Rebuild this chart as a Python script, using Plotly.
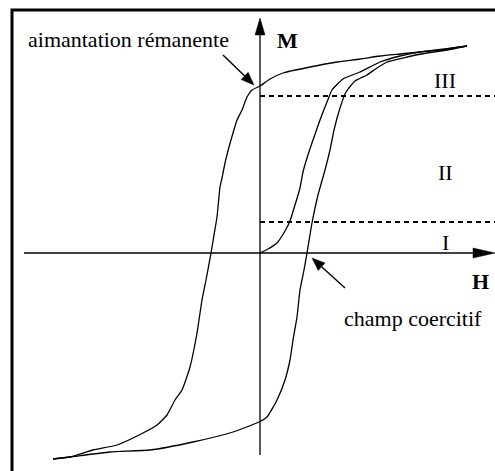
import math
import plotly.graph_objects as go

# Hysteresis loop, values (H, M in drawing units; origin at axes crossing)
desc_H = [207, 180, 160, 140, 120, 100, 77, 50, 23, 10, 0, -8, -13, -18, -23, -27, -31, -35, -38,
          -40, -43, -46, -49, -54, -58, -63, -70, -78, -85, -93, -103, -117, -143, -167, -190, -207]
desc_M = [207, 203, 201, 199, 197, 194, 191, 186, 180, 174, 167, 163, 156, 143, 133, 120, 106, 90, 75,
          66, 36, 18, 0, -27, -47, -80, -114, -137, -147, -162, -172, -180, -192, -197, -204, -206]

asc_H = [-207, -190, -150, -110, -67, -27, -1, 7, 17, 25, 30, 33, 37, 40, 44, 47, 52, 58, 65, 70,
         74, 80, 86, 95, 107, 117, 127, 147, 167, 187, 207]
asc_M = [-206, -204, -199, -197, -189, -179, -169, -164, -147, -127, -107, -87, -64, -37, -17, 0, 30, 58,
         83, 103, 123, 145, 161, 172, 178, 185, 191, 196, 200, 203, 207]

init_H = [0, 8, 17, 25, 30, 35, 40, 43, 47, 53, 60, 67, 72, 83, 100, 120, 140, 160, 185, 207]
init_M = [0, 4, 10, 22, 32, 48, 65, 81, 95, 113, 133, 151, 163, 174, 181, 191, 197, 201, 204, 207]

level_III_II = 157
level_II_I = 31
region_labels = ["III", "II", "I"]
region_M = [173, 81, 11]
region_H = 185

X_MIN, X_MAX = -260, 235
Y_MIN, Y_MAX = -218, 253

fig = go.Figure()
line_style = dict(color="black", width=1.3, shape="spline", smoothing=0.5)
for hs, ms in [(desc_H, desc_M), (asc_H, asc_M), (init_H, init_M)]:
    fig.add_trace(go.Scatter(x=hs, y=ms, mode="lines", line=line_style,
                             hoverinfo="skip", showlegend=False))

shapes = []

def arrow(x0, y0, x1, y1, head_len, head_half, width=1.3):
    dx, dy = x1 - x0, y1 - y0
    n = math.hypot(dx, dy)
    ux, uy = dx / n, dy / n
    bx, by = x1 - ux * head_len, y1 - uy * head_len
    px, py = -uy * head_half, ux * head_half
    shapes.append(dict(type="line", x0=x0, y0=y0, x1=bx, y1=by,
                       line=dict(color="black", width=width)))
    shapes.append(dict(type="path",
                       path=f"M {x1} {y1} L {bx+px} {by+py} L {bx-px} {by-py} Z",
                       fillcolor="black", line=dict(color="black", width=0.5)))

# axes
arrow(-236, 0, 235, 0, 22, 5)
arrow(0, -202, 0, 235, 17, 5)
# annotation arrows
arrow(-37, 198, -6, 168, 13, 5, 1.4)
arrow(85, -35, 52, -5, 13, 5, 1.4)

# dashed levels
for lv in [level_III_II, level_II_I]:
    shapes.append(dict(type="line", x0=0, y0=lv, x1=X_MAX, y1=lv,
                       line=dict(color="black", width=2.2, dash="5px,4px")))

# border (top and left)
shapes.append(dict(type="path", path=f"M -248 {Y_MIN} L -248 243 L {X_MAX} 243",
                   line=dict(color="black", width=3)))

serif = "Liberation Serif"
ann = []
for t, m in zip(region_labels, region_M):
    ann.append(dict(x=region_H, y=m, text=t, showarrow=False,
                    font=dict(family=serif, size=22, color="black")))
ann.append(dict(x=27, y=213, text="<b>M</b>", showarrow=False,
                font=dict(family=serif, size=22, color="black")))
ann.append(dict(x=220, y=-28, text="<b>H</b>", showarrow=False,
                font=dict(family=serif, size=22, color="black")))
ann.append(dict(x=-132, y=214, text="aimantation rémanente", showarrow=False,
                font=dict(family=serif, size=22, color="black")))
ann.append(dict(x=153, y=-65, text="champ coercitif", showarrow=False,
                font=dict(family=serif, size=22, color="black")))

fig.update_layout(
    width=495, height=471, autosize=False,
    margin=dict(l=0, r=0, t=0, b=0),
    font=dict(family=serif),
    paper_bgcolor="white", plot_bgcolor="white",
    xaxis=dict(range=[X_MIN, X_MAX], visible=False, fixedrange=True),
    yaxis=dict(range=[Y_MIN, Y_MAX], visible=False, fixedrange=True),
    shapes=shapes, annotations=ann, showlegend=False,
)
fig.write_html("out.html", config={"displayModeBar": False},
               post_script="document.body.style.margin='0';document.body.style.overflow='hidden';")
